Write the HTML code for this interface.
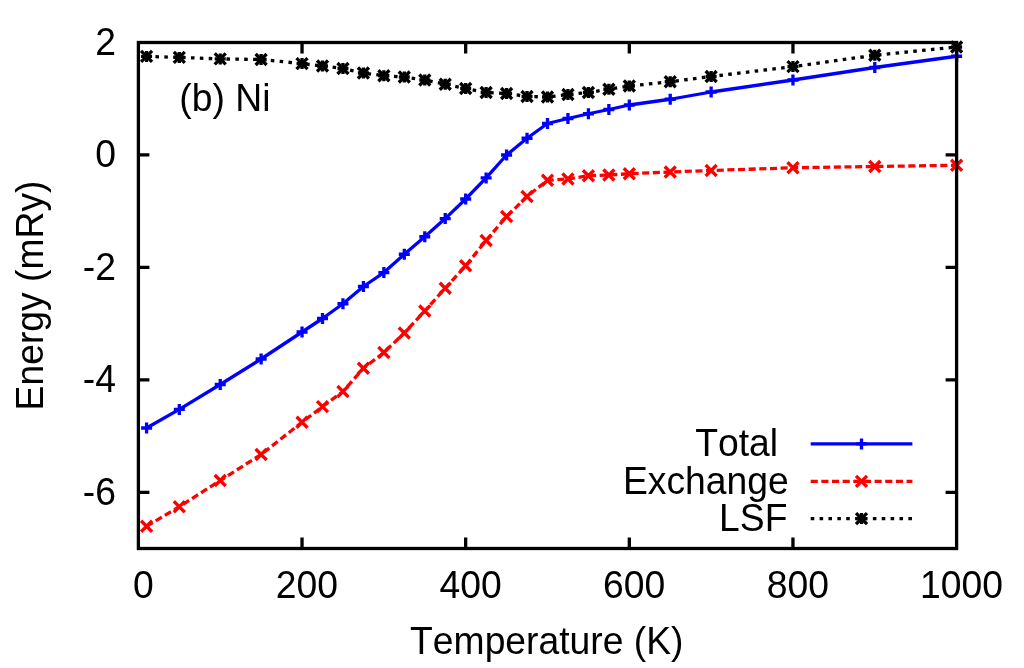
<!DOCTYPE html>
<html><head><meta charset="utf-8"><title>Ni energy vs temperature</title>
<style>
html,body{margin:0;padding:0;background:#fff;}
body{width:1024px;height:668px;overflow:hidden;}
svg{display:block;will-change:transform;}
text{font-family:"Liberation Sans",sans-serif;font-size:37.3px;fill:#000;font-kerning:none;}
</style></head><body>
<svg width="1024" height="668" viewBox="0 0 1024 668">
<rect x="0" y="0" width="1024" height="668" fill="#ffffff"/>
<g stroke-width="3.3" stroke-linecap="butt" stroke-linejoin="round" fill="none">
<polyline points="146.58,428.00 179.31,409.40 220.22,384.50 261.13,359.00 302.04,332.00 322.50,318.50 342.95,303.75 363.40,286.50 383.86,272.60 404.32,254.25 424.77,236.75 445.23,218.60 465.68,199.00 486.13,177.90 506.59,155.00 527.04,138.25 547.50,123.50 567.96,118.50 588.41,113.75 608.87,109.50 629.32,105.00 670.23,99.25 711.14,92.00 792.96,80.00 874.78,67.50 956.60,56.25" stroke="#0000ff" fill="none"/>
<path d="M141.08 428.00H152.08M146.58 422.50V433.50" stroke="#0000ff"/><path d="M173.81 409.40H184.81M179.31 403.90V414.90" stroke="#0000ff"/><path d="M214.72 384.50H225.72M220.22 379.00V390.00" stroke="#0000ff"/><path d="M255.63 359.00H266.63M261.13 353.50V364.50" stroke="#0000ff"/><path d="M296.54 332.00H307.54M302.04 326.50V337.50" stroke="#0000ff"/><path d="M317.00 318.50H328.00M322.50 313.00V324.00" stroke="#0000ff"/><path d="M337.45 303.75H348.45M342.95 298.25V309.25" stroke="#0000ff"/><path d="M357.90 286.50H368.90M363.40 281.00V292.00" stroke="#0000ff"/><path d="M378.36 272.60H389.36M383.86 267.10V278.10" stroke="#0000ff"/><path d="M398.82 254.25H409.82M404.32 248.75V259.75" stroke="#0000ff"/><path d="M419.27 236.75H430.27M424.77 231.25V242.25" stroke="#0000ff"/><path d="M439.73 218.60H450.73M445.23 213.10V224.10" stroke="#0000ff"/><path d="M460.18 199.00H471.18M465.68 193.50V204.50" stroke="#0000ff"/><path d="M480.63 177.90H491.63M486.13 172.40V183.40" stroke="#0000ff"/><path d="M501.09 155.00H512.09M506.59 149.50V160.50" stroke="#0000ff"/><path d="M521.54 138.25H532.54M527.04 132.75V143.75" stroke="#0000ff"/><path d="M542.00 123.50H553.00M547.50 118.00V129.00" stroke="#0000ff"/><path d="M562.46 118.50H573.46M567.96 113.00V124.00" stroke="#0000ff"/><path d="M582.91 113.75H593.91M588.41 108.25V119.25" stroke="#0000ff"/><path d="M603.37 109.50H614.37M608.87 104.00V115.00" stroke="#0000ff"/><path d="M623.82 105.00H634.82M629.32 99.50V110.50" stroke="#0000ff"/><path d="M664.73 99.25H675.73M670.23 93.75V104.75" stroke="#0000ff"/><path d="M705.64 92.00H716.64M711.14 86.50V97.50" stroke="#0000ff"/><path d="M787.46 80.00H798.46M792.96 74.50V85.50" stroke="#0000ff"/><path d="M869.28 67.50H880.28M874.78 62.00V73.00" stroke="#0000ff"/><path d="M951.10 56.25H962.10M956.60 50.75V61.75" stroke="#0000ff"/>
<polyline points="146.58,526.25 179.31,506.75 220.22,480.50 261.13,454.50 302.04,422.25 322.50,406.60 342.95,391.50 363.40,368.25 383.86,352.50 404.32,333.00 424.77,311.00 445.23,288.25 465.68,265.75 486.13,240.50 506.59,216.50 527.04,196.50 547.50,180.25 567.96,179.00 588.41,175.75 608.87,175.00 629.32,173.75 670.23,172.00 711.14,170.50 792.96,167.75 874.78,166.50 956.60,165.25" stroke="#ff0000" stroke-dasharray="7.1 3.55" fill="none"/>
<path d="M141.08 520.75L152.08 531.75M141.08 531.75L152.08 520.75" stroke="#ff0000"/><path d="M173.81 501.25L184.81 512.25M173.81 512.25L184.81 501.25" stroke="#ff0000"/><path d="M214.72 475.00L225.72 486.00M214.72 486.00L225.72 475.00" stroke="#ff0000"/><path d="M255.63 449.00L266.63 460.00M255.63 460.00L266.63 449.00" stroke="#ff0000"/><path d="M296.54 416.75L307.54 427.75M296.54 427.75L307.54 416.75" stroke="#ff0000"/><path d="M317.00 401.10L328.00 412.10M317.00 412.10L328.00 401.10" stroke="#ff0000"/><path d="M337.45 386.00L348.45 397.00M337.45 397.00L348.45 386.00" stroke="#ff0000"/><path d="M357.90 362.75L368.90 373.75M357.90 373.75L368.90 362.75" stroke="#ff0000"/><path d="M378.36 347.00L389.36 358.00M378.36 358.00L389.36 347.00" stroke="#ff0000"/><path d="M398.82 327.50L409.82 338.50M398.82 338.50L409.82 327.50" stroke="#ff0000"/><path d="M419.27 305.50L430.27 316.50M419.27 316.50L430.27 305.50" stroke="#ff0000"/><path d="M439.73 282.75L450.73 293.75M439.73 293.75L450.73 282.75" stroke="#ff0000"/><path d="M460.18 260.25L471.18 271.25M460.18 271.25L471.18 260.25" stroke="#ff0000"/><path d="M480.63 235.00L491.63 246.00M480.63 246.00L491.63 235.00" stroke="#ff0000"/><path d="M501.09 211.00L512.09 222.00M501.09 222.00L512.09 211.00" stroke="#ff0000"/><path d="M521.54 191.00L532.54 202.00M521.54 202.00L532.54 191.00" stroke="#ff0000"/><path d="M542.00 174.75L553.00 185.75M542.00 185.75L553.00 174.75" stroke="#ff0000"/><path d="M562.46 173.50L573.46 184.50M562.46 184.50L573.46 173.50" stroke="#ff0000"/><path d="M582.91 170.25L593.91 181.25M582.91 181.25L593.91 170.25" stroke="#ff0000"/><path d="M603.37 169.50L614.37 180.50M603.37 180.50L614.37 169.50" stroke="#ff0000"/><path d="M623.82 168.25L634.82 179.25M623.82 179.25L634.82 168.25" stroke="#ff0000"/><path d="M664.73 166.50L675.73 177.50M664.73 177.50L675.73 166.50" stroke="#ff0000"/><path d="M705.64 165.00L716.64 176.00M705.64 176.00L716.64 165.00" stroke="#ff0000"/><path d="M787.46 162.25L798.46 173.25M787.46 173.25L798.46 162.25" stroke="#ff0000"/><path d="M869.28 161.00L880.28 172.00M869.28 172.00L880.28 161.00" stroke="#ff0000"/><path d="M951.10 159.75L962.10 170.75M951.10 170.75L962.10 159.75" stroke="#ff0000"/>
<polyline points="146.58,56.40 179.31,57.40 220.22,58.90 261.13,59.50 302.04,63.60 322.50,66.00 342.95,68.50 363.40,73.00 383.86,75.75 404.32,77.00 424.77,80.00 445.23,84.25 465.68,88.50 486.13,92.50 506.59,93.50 527.04,96.50 547.50,97.00 567.96,94.50 588.41,92.50 608.87,89.25 629.32,86.00 670.23,81.75 711.14,76.50 792.96,66.60 874.78,55.25 956.60,47.00" stroke="#000000" stroke-dasharray="3.55 5.33" fill="none"/>
<path d="M141.08 56.40H152.08M146.58 50.90V61.90" stroke="#000000"/><path d="M141.08 50.90L152.08 61.90M141.08 61.90L152.08 50.90" stroke="#000000"/><path d="M173.81 57.40H184.81M179.31 51.90V62.90" stroke="#000000"/><path d="M173.81 51.90L184.81 62.90M173.81 62.90L184.81 51.90" stroke="#000000"/><path d="M214.72 58.90H225.72M220.22 53.40V64.40" stroke="#000000"/><path d="M214.72 53.40L225.72 64.40M214.72 64.40L225.72 53.40" stroke="#000000"/><path d="M255.63 59.50H266.63M261.13 54.00V65.00" stroke="#000000"/><path d="M255.63 54.00L266.63 65.00M255.63 65.00L266.63 54.00" stroke="#000000"/><path d="M296.54 63.60H307.54M302.04 58.10V69.10" stroke="#000000"/><path d="M296.54 58.10L307.54 69.10M296.54 69.10L307.54 58.10" stroke="#000000"/><path d="M317.00 66.00H328.00M322.50 60.50V71.50" stroke="#000000"/><path d="M317.00 60.50L328.00 71.50M317.00 71.50L328.00 60.50" stroke="#000000"/><path d="M337.45 68.50H348.45M342.95 63.00V74.00" stroke="#000000"/><path d="M337.45 63.00L348.45 74.00M337.45 74.00L348.45 63.00" stroke="#000000"/><path d="M357.90 73.00H368.90M363.40 67.50V78.50" stroke="#000000"/><path d="M357.90 67.50L368.90 78.50M357.90 78.50L368.90 67.50" stroke="#000000"/><path d="M378.36 75.75H389.36M383.86 70.25V81.25" stroke="#000000"/><path d="M378.36 70.25L389.36 81.25M378.36 81.25L389.36 70.25" stroke="#000000"/><path d="M398.82 77.00H409.82M404.32 71.50V82.50" stroke="#000000"/><path d="M398.82 71.50L409.82 82.50M398.82 82.50L409.82 71.50" stroke="#000000"/><path d="M419.27 80.00H430.27M424.77 74.50V85.50" stroke="#000000"/><path d="M419.27 74.50L430.27 85.50M419.27 85.50L430.27 74.50" stroke="#000000"/><path d="M439.73 84.25H450.73M445.23 78.75V89.75" stroke="#000000"/><path d="M439.73 78.75L450.73 89.75M439.73 89.75L450.73 78.75" stroke="#000000"/><path d="M460.18 88.50H471.18M465.68 83.00V94.00" stroke="#000000"/><path d="M460.18 83.00L471.18 94.00M460.18 94.00L471.18 83.00" stroke="#000000"/><path d="M480.63 92.50H491.63M486.13 87.00V98.00" stroke="#000000"/><path d="M480.63 87.00L491.63 98.00M480.63 98.00L491.63 87.00" stroke="#000000"/><path d="M501.09 93.50H512.09M506.59 88.00V99.00" stroke="#000000"/><path d="M501.09 88.00L512.09 99.00M501.09 99.00L512.09 88.00" stroke="#000000"/><path d="M521.54 96.50H532.54M527.04 91.00V102.00" stroke="#000000"/><path d="M521.54 91.00L532.54 102.00M521.54 102.00L532.54 91.00" stroke="#000000"/><path d="M542.00 97.00H553.00M547.50 91.50V102.50" stroke="#000000"/><path d="M542.00 91.50L553.00 102.50M542.00 102.50L553.00 91.50" stroke="#000000"/><path d="M562.46 94.50H573.46M567.96 89.00V100.00" stroke="#000000"/><path d="M562.46 89.00L573.46 100.00M562.46 100.00L573.46 89.00" stroke="#000000"/><path d="M582.91 92.50H593.91M588.41 87.00V98.00" stroke="#000000"/><path d="M582.91 87.00L593.91 98.00M582.91 98.00L593.91 87.00" stroke="#000000"/><path d="M603.37 89.25H614.37M608.87 83.75V94.75" stroke="#000000"/><path d="M603.37 83.75L614.37 94.75M603.37 94.75L614.37 83.75" stroke="#000000"/><path d="M623.82 86.00H634.82M629.32 80.50V91.50" stroke="#000000"/><path d="M623.82 80.50L634.82 91.50M623.82 91.50L634.82 80.50" stroke="#000000"/><path d="M664.73 81.75H675.73M670.23 76.25V87.25" stroke="#000000"/><path d="M664.73 76.25L675.73 87.25M664.73 87.25L675.73 76.25" stroke="#000000"/><path d="M705.64 76.50H716.64M711.14 71.00V82.00" stroke="#000000"/><path d="M705.64 71.00L716.64 82.00M705.64 82.00L716.64 71.00" stroke="#000000"/><path d="M787.46 66.60H798.46M792.96 61.10V72.10" stroke="#000000"/><path d="M787.46 61.10L798.46 72.10M787.46 72.10L798.46 61.10" stroke="#000000"/><path d="M869.28 55.25H880.28M874.78 49.75V60.75" stroke="#000000"/><path d="M869.28 49.75L880.28 60.75M869.28 60.75L880.28 49.75" stroke="#000000"/><path d="M951.10 47.00H962.10M956.60 41.50V52.50" stroke="#000000"/><path d="M951.10 41.50L962.10 52.50M951.10 52.50L962.10 41.50" stroke="#000000"/>
<path d="M810.7 443.9H912.4" stroke="#0000ff"/><path d="M856.00 443.90H867.00M861.50 438.40V449.40" stroke="#0000ff"/>
<path d="M810.7 481.3H912.4" stroke="#ff0000" stroke-dasharray="7.1 3.55"/><path d="M856.00 475.80L867.00 486.80M856.00 486.80L867.00 475.80" stroke="#ff0000"/>
<path d="M810.7 518.6H912.4" stroke="#000000" stroke-dasharray="3.55 5.33"/><path d="M856.00 518.60H867.00M861.50 513.10V524.10" stroke="#000000"/><path d="M856.00 513.10L867.00 524.10M856.00 524.10L867.00 513.10" stroke="#000000"/>
<path d="M302.04 548.5V537.5M302.04 42.5V53.5M465.68 548.5V537.5M465.68 42.5V53.5M629.32 548.5V537.5M629.32 42.5V53.5M792.96 548.5V537.5M792.96 42.5V53.5M138.4 154.94H149.4M956.6 154.94H945.6M138.4 267.39H149.4M956.6 267.39H945.6M138.4 379.83H149.4M956.6 379.83H945.6M138.4 492.28H149.4M956.6 492.28H945.6" stroke="#000"/>
<rect x="138.4" y="42.5" width="818.20" height="506.00" stroke="#000" stroke-linejoin="miter"/>
</g>
<text transform="translate(116.00 54.90) scale(1 1.035)" text-anchor="end">2</text>
<text transform="translate(116.00 167.34) scale(1 1.035)" text-anchor="end">0</text>
<text transform="translate(116.00 279.79) scale(1 1.035)" text-anchor="end">-2</text>
<text transform="translate(116.00 392.23) scale(1 1.035)" text-anchor="end">-4</text>
<text transform="translate(116.00 504.68) scale(1 1.035)" text-anchor="end">-6</text>
<text transform="translate(143.30 598.40) scale(1 1.035)" text-anchor="middle">0</text>
<text transform="translate(306.94 598.40) scale(1 1.035)" text-anchor="middle">200</text>
<text transform="translate(470.58 598.40) scale(1 1.035)" text-anchor="middle">400</text>
<text transform="translate(634.22 598.40) scale(1 1.035)" text-anchor="middle">600</text>
<text transform="translate(797.86 598.40) scale(1 1.035)" text-anchor="middle">800</text>
<text transform="translate(961.50 598.40) scale(1 1.035)" text-anchor="middle">1000</text>
<text transform="translate(546.80 653.60) scale(1 1.035)" text-anchor="middle">Temperature (K)</text>
<text transform="translate(42.50 295.50) rotate(-90) scale(1 1.035)" text-anchor="middle">Energy (mRy)</text>
<text transform="translate(179.30 110.80) scale(1 1.035)">(b) Ni</text>
<text transform="translate(778.10 456.40) scale(1 1.035)" text-anchor="end">Total</text>
<text transform="translate(788.70 493.80) scale(1 1.035)" text-anchor="end">Exchange</text>
<text transform="translate(787.40 531.20) scale(1 1.035)" text-anchor="end">LSF</text>
</svg>
</body></html>
